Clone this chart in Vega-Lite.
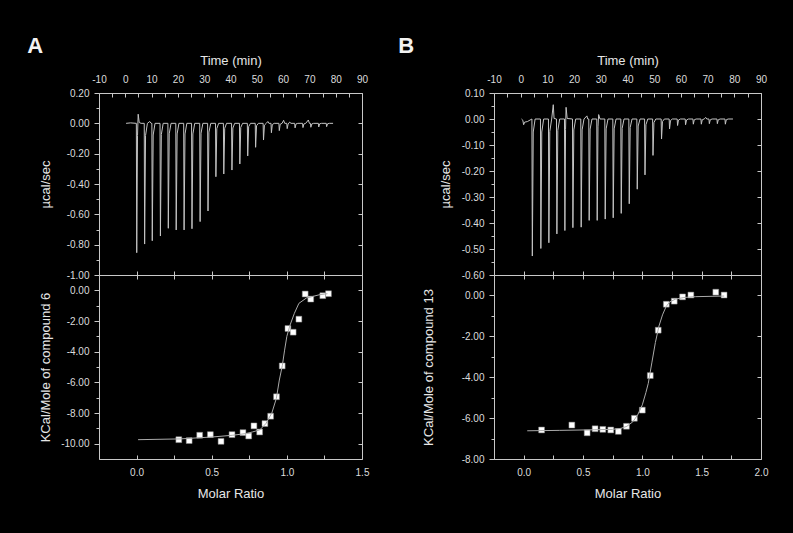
{
  "$schema": "https://vega.github.io/schema/vega-lite/v6.json",
  "background": "black",
  "padding": {"left": 26, "top": 34, "right": 36, "bottom": 42},
  "config": {
    "locale": {"number": {"decimal": ".", "thousands": ",", "grouping": [3], "currency": ["$", ""], "minus": "-"}},
    "font": "Liberation Sans",
    "view": {"stroke": "#c8c8c8", "strokeWidth": 1},
    "axis": {
      "grid": false, "labelOverlap": false, "labelFlush": false, "labelBound": false,
      "labelFont": "Liberation Sans", "labelFontSize": 10, "labelColor": "#dcdcdc",
      "titleFont": "Liberation Sans", "titleFontSize": 13, "titleFontWeight": "normal", "titleColor": "#e6e6e6",
      "tickColor": "#c8c8c8", "domainColor": "#c8c8c8", "tickWidth": 1
    },
    "title": {"color": "#f2f2f2", "font": "Liberation Sans", "fontSize": 22, "fontWeight": "bold"}
  },
  "spacing": 395,
  "bounds": "flush",
  "hconcat": [
    {
      "spacing": 0,
      "bounds": "flush",
      "vconcat": [
        {
          "width": 263, "height": 182,
          "title": {"text": "A", "anchor": "start", "frame": "bounds", "offset": 0, "dx": -12, "dy": 4},
          "resolve": {"axis": {"x": "independent", "y": "independent"}},
          "layer": [
            {
              "data": {"values": [
                {"t":0.3,"v":0},{"t":2,"v":0.003},{"t":4.2,"v":0},{"t":4.35,"v":-0.853},{"t":4.65,"v":-0.08},{"t":4.9,"v":0.06},{"t":5.3,"v":0.005},{"t":6,"v":0},
                {"t":7.2,"v":0},{"t":7.35,"v":-0.796},{"t":7.7,"v":-0.08},{"t":8.4,"v":0},{"t":9.3,"v":0.012},{"t":9.8,"v":0},
                {"t":10.1,"v":0},{"t":10.25,"v":-0.774},{"t":10.6,"v":-0.077},{"t":11.3,"v":0},
                {"t":13.2,"v":0},{"t":13.35,"v":-0.743},{"t":13.7,"v":-0.074},{"t":14.4,"v":0},
                {"t":16.2,"v":0},{"t":16.35,"v":-0.692},{"t":16.7,"v":-0.069},{"t":17.4,"v":0},
                {"t":19.2,"v":0},{"t":19.35,"v":-0.703},{"t":19.7,"v":-0.07},{"t":20.4,"v":0},
                {"t":22.2,"v":0},{"t":22.35,"v":-0.703},{"t":22.7,"v":-0.07},{"t":23.4,"v":0},
                {"t":25.2,"v":0},{"t":25.35,"v":-0.695},{"t":25.7,"v":-0.07},{"t":26.4,"v":0},
                {"t":28.3,"v":0},{"t":28.45,"v":-0.648},{"t":28.8,"v":-0.065},{"t":29.5,"v":0},
                {"t":31.3,"v":0},{"t":31.45,"v":-0.578},{"t":31.8,"v":-0.058},{"t":32.5,"v":0},
                {"t":34.3,"v":0},{"t":34.45,"v":-0.352},{"t":34.8,"v":-0.035},{"t":35.5,"v":0},
                {"t":37.3,"v":0},{"t":37.45,"v":-0.334},{"t":37.8,"v":-0.033},{"t":38.5,"v":0},
                {"t":40.4,"v":0},{"t":40.55,"v":-0.308},{"t":40.9,"v":-0.031},{"t":41.6,"v":0},
                {"t":43.4,"v":0},{"t":43.55,"v":-0.268},{"t":43.9,"v":-0.027},{"t":44.6,"v":0},
                {"t":46.4,"v":0},{"t":46.55,"v":-0.215},{"t":46.9,"v":-0.022},{"t":47.6,"v":0},
                {"t":49.4,"v":0},{"t":49.55,"v":-0.158},{"t":49.9,"v":-0.016},{"t":50.6,"v":0},
                {"t":52.4,"v":0},{"t":52.55,"v":-0.11},{"t":52.9,"v":-0.012},{"t":53.6,"v":0},{"t":54.2,"v":0.012},{"t":54.6,"v":0},
                {"t":55.4,"v":0},{"t":55.55,"v":-0.062},{"t":55.9,"v":-0.008},{"t":56.6,"v":0},
                {"t":58.4,"v":0},{"t":58.55,"v":-0.048},{"t":58.9,"v":-0.006},{"t":59.6,"v":0},{"t":60.2,"v":0.02},{"t":60.6,"v":0},
                {"t":61.4,"v":0},{"t":61.55,"v":-0.035},{"t":61.9,"v":-0.005},{"t":62.5,"v":0.008},{"t":63,"v":0},
                {"t":64.4,"v":0},{"t":64.55,"v":-0.03},{"t":64.9,"v":-0.004},{"t":65.6,"v":0},
                {"t":67.4,"v":0},{"t":67.55,"v":-0.028},{"t":67.9,"v":-0.004},{"t":68.6,"v":0},{"t":69.6,"v":0.022},{"t":70,"v":0},
                {"t":70.4,"v":0},{"t":70.55,"v":-0.026},{"t":70.9,"v":-0.004},{"t":71.6,"v":0},
                {"t":73.4,"v":0},{"t":73.55,"v":-0.024},{"t":73.9,"v":-0.003},{"t":74.6,"v":0},
                {"t":76.4,"v":0},{"t":76.55,"v":-0.022},{"t":76.9,"v":-0.003},{"t":77.6,"v":0},{"t":79,"v":0}
              ]},
              "mark": {"type": "line", "color": "#c4c4c4", "strokeWidth": 1},
              "encoding": {
                "x": {"field": "t", "type": "quantitative", "scale": {"domain": [-10, 90], "nice": false, "zero": false},
                      "axis": {"orient": "top", "values": [-10,0,10,20,30,40,50,60,70,80,90], "format": "d", "ticks": false, "domain": false, "labelPadding": 9, "title": "Time (min)", "titlePadding": 7}},
                "y": {"field": "v", "type": "quantitative", "scale": {"domain": [-1.0, 0.2], "nice": false, "zero": false},
                      "axis": {"orient": "left", "values": [0.2,0,-0.2,-0.4,-0.6,-0.8,-1.0], "format": ".2f", "tickSize": 5, "labelPadding": 5, "domain": false, "title": "µcal/sec", "titlePadding": 14}}
              }
            },
            {
              "data": {"values": [{"t": 0, "v": 0}]},
              "mark": {"type": "point", "opacity": 0},
              "encoding": {
                "x": {"field": "t", "type": "quantitative", "scale": {"domain": [-10, 90], "nice": false, "zero": false},
                      "axis": {"orient": "top", "values": [-10,-5,0,5,10,15,20,25,30,35,40,45,50,55,60,65,70,75,80,85,90], "tickSize": -4, "labels": false, "domain": false, "title": null}},
                "y": {"field": "v", "type": "quantitative", "scale": {"domain": [-1.0, 0.2], "nice": false, "zero": false},
                      "axis": {"orient": "left", "values": [0.1,-0.1,-0.3,-0.5,-0.7,-0.9], "tickSize": 3, "labels": false, "domain": false, "title": null}}
              }
            },
            {
              "data": {"values": [{"t": 0, "v": 0}]},
              "mark": {"type": "point", "opacity": 0},
              "encoding": {
                "x": {"field": "t", "type": "quantitative", "scale": {"domain": [-10, 90], "nice": false, "zero": false}, "axis": null},
                "y": {"field": "v", "type": "quantitative", "scale": {"domain": [-1.0, 0.2], "nice": false, "zero": false},
                      "axis": {"orient": "right", "values": [0.2,0,-0.2,-0.4,-0.6,-0.8,-1.0], "tickSize": -4, "labels": false, "domain": false, "title": null}}
              }
            }
          ]
        },
        {
          "width": 263, "height": 184,
          "resolve": {"axis": {"x": "independent", "y": "independent"}},
          "layer": [
            {
              "data": {"values": [
                {"m":0.281,"q":-9.74},{"m":0.35,"q":-9.8},{"m":0.42,"q":-9.45},{"m":0.491,"q":-9.41},{"m":0.562,"q":-9.85},
                {"m":0.635,"q":-9.41},{"m":0.708,"q":-9.28},{"m":0.746,"q":-9.5},{"m":0.781,"q":-8.84},{"m":0.819,"q":-9.24},
                {"m":0.854,"q":-8.69},{"m":0.892,"q":-8.21},{"m":0.931,"q":-6.94},{"m":0.969,"q":-4.93},{"m":1.007,"q":-2.49},
                {"m":1.042,"q":-2.73},{"m":1.08,"q":-1.88},{"m":1.122,"q":-0.24},{"m":1.159,"q":-0.57},{"m":1.239,"q":-0.35},{"m":1.277,"q":-0.22}
              ]},
              "mark": {"type": "square", "filled": true, "color": "#ffffff", "stroke": "#888888", "strokeWidth": 0.5, "size": 34, "opacity": 1},
              "encoding": {
                "x": {"field": "m", "type": "quantitative", "scale": {"domain": [-0.25, 1.5], "nice": false, "zero": false},
                      "axis": {"orient": "bottom", "values": [0,0.5,1,1.5], "format": ".1f", "ticks": false, "domain": false, "labelPadding": 8, "title": "Molar Ratio", "titlePadding": 10}},
                "y": {"field": "q", "type": "quantitative", "scale": {"domain": [-11, 1], "nice": false, "zero": false},
                      "axis": {"orient": "left", "values": [0,-2,-4,-6,-8,-10], "format": ".2f", "tickSize": 5, "labelPadding": 5, "domain": false, "title": "KCal/Mole of compound 6", "titlePadding": 8}}
              }
            },
            {
              "data": {"values": [
                {"m":0.01,"q":-9.74},{"m":0.29,"q":-9.69},{"m":0.51,"q":-9.56},{"m":0.64,"q":-9.45},{"m":0.73,"q":-9.34},{"m":0.77,"q":-9.24},
                {"m":0.82,"q":-9.1},{"m":0.86,"q":-8.7},{"m":0.9,"q":-8.0},{"m":0.93,"q":-7.05},{"m":0.95,"q":-5.85},{"m":0.97,"q":-4.9},
                {"m":0.985,"q":-3.9},{"m":1.0,"q":-3.0},{"m":1.02,"q":-2.3},{"m":1.05,"q":-1.5},{"m":1.08,"q":-0.85},{"m":1.13,"q":-0.5},
                {"m":1.22,"q":-0.28},{"m":1.27,"q":-0.22}
              ]},
              "mark": {"type": "line", "color": "#aaaaaa", "strokeWidth": 1},
              "encoding": {
                "x": {"field": "m", "type": "quantitative", "scale": {"domain": [-0.25, 1.5], "nice": false, "zero": false},
                      "axis": {"orient": "bottom", "values": [-0.25,0,0.25,0.5,0.75,1,1.25,1.5], "tickSize": -4, "labels": false, "domain": false, "title": null}},
                "y": {"field": "q", "type": "quantitative", "scale": {"domain": [-11, 1], "nice": false, "zero": false},
                      "axis": {"orient": "left", "values": [-1,-3,-5,-7,-9], "tickSize": 3, "labels": false, "domain": false, "title": null}}
              }
            },
            {
              "data": {"values": [{"m": 0, "q": 0}]},
              "mark": {"type": "point", "opacity": 0},
              "encoding": {
                "x": {"field": "m", "type": "quantitative", "scale": {"domain": [-0.25, 1.5], "nice": false, "zero": false},
                      "axis": {"orient": "top", "values": [-0.25,0,0.25,0.5,0.75,1,1.25,1.5], "tickSize": -4, "labels": false, "domain": false, "title": null}},
                "y": {"field": "q", "type": "quantitative", "scale": {"domain": [-11, 1], "nice": false, "zero": false},
                      "axis": {"orient": "right", "values": [0,-2,-4,-6,-8,-10], "tickSize": -4, "labels": false, "domain": false, "title": null}}
              }
            },
            {
              "data": {"values": [{"m": 0, "q": 0}]},
              "mark": {"type": "point", "opacity": 0},
              "encoding": {
                "x": {"field": "m", "type": "quantitative", "scale": {"domain": [-0.25, 1.5], "nice": false, "zero": false},
                      "axis": {"orient": "top", "values": [-0.25,0,0.25,0.5,0.75,1,1.25,1.5], "tickSize": 4, "labels": false, "domain": false, "title": null}},
                "y": {"field": "q", "type": "quantitative", "scale": {"domain": [-11, 1], "nice": false, "zero": false}, "axis": null}
              }
            }
          ]
        }
      ]
    },
    {
      "spacing": 0,
      "bounds": "flush",
      "vconcat": [
        {
          "width": 267, "height": 182,
          "title": {"text": "B", "anchor": "start", "frame": "bounds", "offset": 0, "dx": -41, "dy": 4},
          "resolve": {"axis": {"x": "independent", "y": "independent"}},
          "layer": [
            {
              "data": {"values": [
                {"t":0.3,"v":0},{"t":0.8,"v":-0.005},{"t":1.1,"v":-0.022},{"t":1.5,"v":-0.012},{"t":2.5,"v":-0.01},{"t":3.5,"v":-0.004},
                {"t":4.2,"v":0},{"t":4.35,"v":-0.527},{"t":4.7,"v":-0.05},{"t":5.4,"v":0},
                {"t":7.4,"v":0},{"t":7.55,"v":-0.498},{"t":7.9,"v":-0.05},{"t":8.6,"v":0},
                {"t":10.4,"v":0},{"t":10.55,"v":-0.476},{"t":10.9,"v":-0.048},{"t":11.6,"v":0},{"t":12.2,"v":0.055},{"t":12.5,"v":0.002},
                {"t":13.4,"v":0},{"t":13.55,"v":-0.442},{"t":13.9,"v":-0.044},{"t":14.6,"v":0},
                {"t":16.4,"v":0},{"t":16.55,"v":-0.429},{"t":16.8,"v":-0.04},{"t":17.0,"v":0.045},{"t":17.4,"v":0.002},
                {"t":19.4,"v":0},{"t":19.55,"v":-0.418},{"t":19.9,"v":-0.042},{"t":20.6,"v":0},
                {"t":22.5,"v":0},{"t":22.65,"v":-0.416},{"t":23.0,"v":-0.042},{"t":23.7,"v":0},{"t":24.8,"v":0.012},{"t":25.1,"v":0},
                {"t":25.5,"v":0},{"t":25.65,"v":-0.39},{"t":26.0,"v":-0.039},{"t":26.7,"v":0},
                {"t":28.5,"v":0},{"t":28.65,"v":-0.39},{"t":28.95,"v":-0.03},{"t":29.2,"v":0.017},{"t":29.7,"v":0},
                {"t":31.5,"v":0},{"t":31.65,"v":-0.385},{"t":32.0,"v":-0.038},{"t":32.7,"v":0},
                {"t":34.5,"v":0},{"t":34.65,"v":-0.38},{"t":35.0,"v":-0.038},{"t":35.7,"v":0},
                {"t":37.5,"v":0},{"t":37.65,"v":-0.363},{"t":38.0,"v":-0.036},{"t":38.7,"v":0},
                {"t":40.5,"v":0},{"t":40.65,"v":-0.326},{"t":41.0,"v":-0.033},{"t":41.7,"v":0},
                {"t":43.5,"v":0},{"t":43.65,"v":-0.27},{"t":44.0,"v":-0.027},{"t":44.7,"v":0},
                {"t":46.4,"v":0},{"t":46.55,"v":-0.215},{"t":46.9,"v":-0.022},{"t":47.6,"v":0},
                {"t":49.4,"v":0},{"t":49.55,"v":-0.14},{"t":49.9,"v":-0.014},{"t":50.6,"v":0},
                {"t":52.6,"v":0},{"t":52.75,"v":-0.077},{"t":53.1,"v":-0.01},{"t":53.8,"v":0},
                {"t":55.6,"v":0},{"t":55.75,"v":-0.038},{"t":56.1,"v":-0.006},{"t":56.8,"v":0},
                {"t":58.6,"v":0},{"t":58.75,"v":-0.025},{"t":59.1,"v":-0.004},{"t":59.8,"v":0},
                {"t":61.6,"v":0},{"t":61.75,"v":-0.022},{"t":62.1,"v":-0.004},{"t":62.8,"v":0},
                {"t":64.5,"v":0},{"t":64.65,"v":-0.02},{"t":65.0,"v":-0.003},{"t":65.7,"v":0},
                {"t":67.5,"v":0},{"t":67.65,"v":-0.02},{"t":68.0,"v":-0.003},{"t":68.7,"v":0},{"t":69.3,"v":0.006},{"t":69.7,"v":0},
                {"t":70.5,"v":0},{"t":70.65,"v":-0.018},{"t":71.0,"v":-0.003},{"t":71.7,"v":0},
                {"t":73.5,"v":0},{"t":73.65,"v":-0.018},{"t":74.0,"v":-0.003},{"t":74.7,"v":0},
                {"t":76.5,"v":0},{"t":76.65,"v":-0.02},{"t":77.0,"v":-0.003},{"t":77.7,"v":0},{"t":79.5,"v":0}
              ]},
              "mark": {"type": "line", "color": "#c4c4c4", "strokeWidth": 1},
              "encoding": {
                "x": {"field": "t", "type": "quantitative", "scale": {"domain": [-10, 90], "nice": false, "zero": false},
                      "axis": {"orient": "top", "values": [-10,0,10,20,30,40,50,60,70,80,90], "format": "d", "ticks": false, "domain": false, "labelPadding": 9, "title": "Time (min)", "titlePadding": 7}},
                "y": {"field": "v", "type": "quantitative", "scale": {"domain": [-0.6, 0.1], "nice": false, "zero": false},
                      "axis": {"orient": "left", "values": [0.1,0,-0.1,-0.2,-0.3,-0.4,-0.5,-0.6], "format": ".2f", "tickSize": 5, "labelPadding": 5, "domain": false, "title": "µcal/sec", "titlePadding": 9}}
              }
            },
            {
              "data": {"values": [{"t": 0, "v": 0}]},
              "mark": {"type": "point", "opacity": 0},
              "encoding": {
                "x": {"field": "t", "type": "quantitative", "scale": {"domain": [-10, 90], "nice": false, "zero": false},
                      "axis": {"orient": "top", "values": [-10,-5,0,5,10,15,20,25,30,35,40,45,50,55,60,65,70,75,80,85,90], "tickSize": -4, "labels": false, "domain": false, "title": null}},
                "y": {"field": "v", "type": "quantitative", "scale": {"domain": [-0.6, 0.1], "nice": false, "zero": false},
                      "axis": {"orient": "left", "values": [0.05,-0.05,-0.15,-0.25,-0.35,-0.45,-0.55], "tickSize": 3, "labels": false, "domain": false, "title": null}}
              }
            },
            {
              "data": {"values": [{"t": 0, "v": 0}]},
              "mark": {"type": "point", "opacity": 0},
              "encoding": {
                "x": {"field": "t", "type": "quantitative", "scale": {"domain": [-10, 90], "nice": false, "zero": false}, "axis": null},
                "y": {"field": "v", "type": "quantitative", "scale": {"domain": [-0.6, 0.1], "nice": false, "zero": false},
                      "axis": {"orient": "right", "values": [0.1,0,-0.1,-0.2,-0.3,-0.4,-0.5,-0.6], "tickSize": -4, "labels": false, "domain": false, "title": null}}
              }
            }
          ]
        },
        {
          "width": 267, "height": 184,
          "resolve": {"axis": {"x": "independent", "y": "independent"}},
          "layer": [
            {
              "data": {"values": [
                {"m":0.151,"q":-6.58},{"m":0.406,"q":-6.34},{"m":0.535,"q":-6.72},{"m":0.602,"q":-6.52},{"m":0.667,"q":-6.55},
                {"m":0.734,"q":-6.58},{"m":0.798,"q":-6.65},{"m":0.866,"q":-6.4},{"m":0.933,"q":-6.01},{"m":1.0,"q":-5.61},
                {"m":1.067,"q":-3.92},{"m":1.134,"q":-1.7},{"m":1.202,"q":-0.43},{"m":1.269,"q":-0.28},{"m":1.339,"q":-0.07},
                {"m":1.409,"q":0.02},{"m":1.619,"q":0.16},{"m":1.689,"q":0.02}
              ]},
              "mark": {"type": "square", "filled": true, "color": "#ffffff", "stroke": "#888888", "strokeWidth": 0.5, "size": 34, "opacity": 1},
              "encoding": {
                "x": {"field": "m", "type": "quantitative", "scale": {"domain": [-0.25, 2.0], "nice": false, "zero": false},
                      "axis": {"orient": "bottom", "values": [0,0.5,1,1.5,2], "format": ".1f", "ticks": false, "domain": false, "labelPadding": 8, "title": "Molar Ratio", "titlePadding": 10}},
                "y": {"field": "q", "type": "quantitative", "scale": {"domain": [-8, 1], "nice": false, "zero": false},
                      "axis": {"orient": "left", "values": [0,-2,-4,-6,-8], "format": ".2f", "tickSize": 5, "labelPadding": 5, "domain": false, "title": "KCal/Mole of compound 13", "titlePadding": 26}}
              }
            },
            {
              "data": {"values": [
                {"m":0.03,"q":-6.62},{"m":0.3,"q":-6.6},{"m":0.6,"q":-6.57},{"m":0.75,"q":-6.55},{"m":0.82,"q":-6.5},{"m":0.87,"q":-6.4},
                {"m":0.92,"q":-6.18},{"m":0.96,"q":-5.85},{"m":1.0,"q":-5.35},{"m":1.03,"q":-4.75},{"m":1.05,"q":-4.3},{"m":1.08,"q":-3.3},
                {"m":1.11,"q":-2.3},{"m":1.14,"q":-1.5},{"m":1.17,"q":-0.95},{"m":1.2,"q":-0.55},{"m":1.23,"q":-0.32},{"m":1.28,"q":-0.18},
                {"m":1.35,"q":-0.1},{"m":1.45,"q":-0.06},{"m":1.69,"q":-0.03}
              ]},
              "mark": {"type": "line", "color": "#aaaaaa", "strokeWidth": 1},
              "encoding": {
                "x": {"field": "m", "type": "quantitative", "scale": {"domain": [-0.25, 2.0], "nice": false, "zero": false},
                      "axis": {"orient": "bottom", "values": [-0.25,0,0.25,0.5,0.75,1,1.25,1.5,1.75,2], "tickSize": -4, "labels": false, "domain": false, "title": null}},
                "y": {"field": "q", "type": "quantitative", "scale": {"domain": [-8, 1], "nice": false, "zero": false},
                      "axis": {"orient": "left", "values": [-1,-3,-5,-7], "tickSize": 3, "labels": false, "domain": false, "title": null}}
              }
            },
            {
              "data": {"values": [{"m": 0, "q": 0}]},
              "mark": {"type": "point", "opacity": 0},
              "encoding": {
                "x": {"field": "m", "type": "quantitative", "scale": {"domain": [-0.25, 2.0], "nice": false, "zero": false},
                      "axis": {"orient": "top", "values": [-0.25,0,0.25,0.5,0.75,1,1.25,1.5,1.75,2], "tickSize": -4, "labels": false, "domain": false, "title": null}},
                "y": {"field": "q", "type": "quantitative", "scale": {"domain": [-8, 1], "nice": false, "zero": false},
                      "axis": {"orient": "right", "values": [0,-2,-4,-6,-8], "tickSize": -4, "labels": false, "domain": false, "title": null}}
              }
            },
            {
              "data": {"values": [{"m": 0, "q": 0}]},
              "mark": {"type": "point", "opacity": 0},
              "encoding": {
                "x": {"field": "m", "type": "quantitative", "scale": {"domain": [-0.25, 2.0], "nice": false, "zero": false},
                      "axis": {"orient": "top", "values": [-0.25,0,0.25,0.5,0.75,1,1.25,1.5,1.75,2], "tickSize": 4, "labels": false, "domain": false, "title": null}},
                "y": {"field": "q", "type": "quantitative", "scale": {"domain": [-8, 1], "nice": false, "zero": false}, "axis": null}
              }
            }
          ]
        }
      ]
    }
  ]
}
